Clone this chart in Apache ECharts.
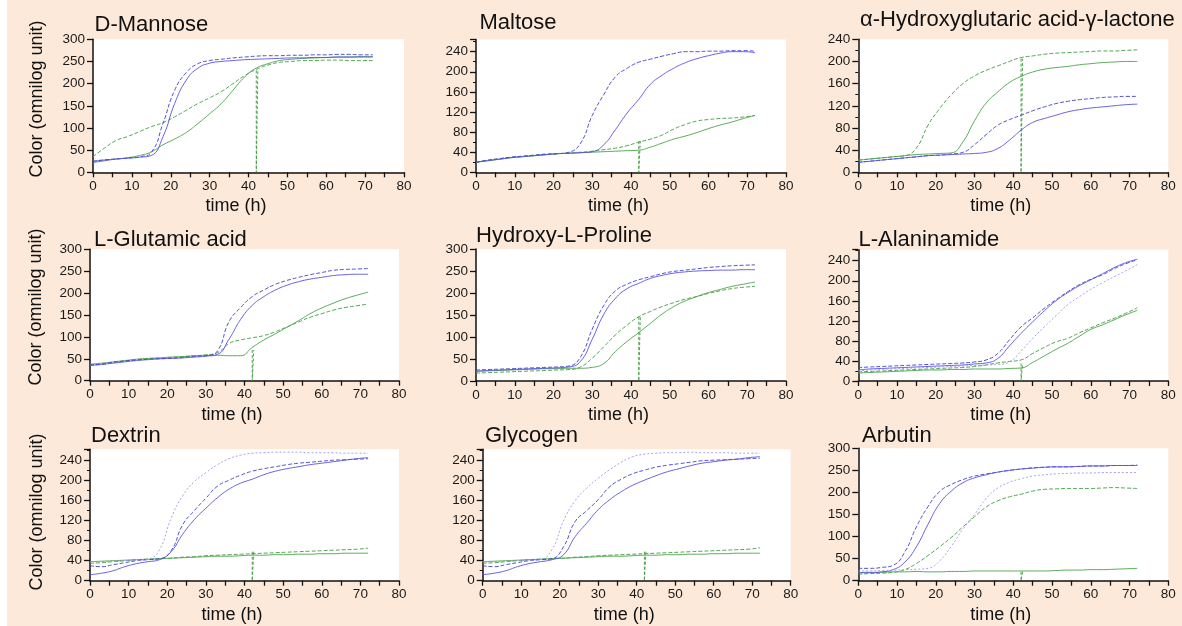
<!DOCTYPE html>
<html><head><meta charset="utf-8">
<script src="https://cdn.jsdelivr.net/npm/echarts@6/dist/echarts.min.js"></script>
<style>html,body{margin:0;padding:0;background:#fff}#c{width:1182px;height:626px}</style>
</head><body><div id="c"></div>
<script>
// time points (h)
const T = [0,3,6,9,12,15,18,21,24,27,30,33,36,39,42,45,48,51,54,57,60,63,66,69,72];

const titles = ['D-Mannose','Maltose','\u03b1-Hydroxyglutaric acid-\u03b3-lactone','L-Glutamic acid','Hydroxy-L-Proline','L-Alaninamide','Dextrin','Glycogen','Arbutin'];
const yMax  = [300, 264, 240, 300, 300, 262, 263, 263, 300];
const yStep = [50, 40, 40, 50, 50, 40, 40, 40, 50];
const xTicks = [0,10,20,30,40,50,60,70,80];
const glitchTime = 42;
const glitchTop = [230, 62, 205, 70, 146, 35, 58, 58, 20];

// D-Mannose
const mannoseB1 = [25,28,30,32,35,45,110,185,225,245,252,255,258,260,262,263,263,264,264,265,265,266,266,265,265];
const mannoseB2 = [22,26,30,32,34,38,80,155,208,235,246,250,252,254,255,256,257,258,258,259,259,260,260,260,260];
const mannoseG1 = [35,55,72,81,92,103,112,125,140,155,168,182,200,218,232,242,248,250,252,252,253,253,252,252,252];
const mannoseG2 = [25,28,30,33,38,46,62,75,90,110,132,155,185,215,235,245,252,255,257,258,259,260,260,261,261];
// Maltose
const maltoseB1 = [20,24,27,30,32,34,36,37,40,58,113,155,190,207,219,225,231,236,240,240,241,241,242,242,241];
const maltoseB2 = [20,23,26,29,31,33,35,37,38,39,41,55,85,118,145,175,193,207,218,226,232,237,240,240,238];
const maltoseG1 = [20,24,27,30,32,34,36,37,38,40,42,45,48,53,60,66,74,86,95,102,105,107,108,110,113];
const maltoseG2 = [20,23,26,29,31,33,35,37,38,39,40,41,42,43,44,50,58,66,72,79,87,94,100,107,113];
// alpha-Hydroxyglutaric acid-gamma-lactone
const hglB1 = [18,20,22,24,26,28,30,31,33,36,50,68,85,95,103,111,118,124,128,131,133,135,136,137,137];
const hglB2 = [18,20,22,24,26,28,30,31,32,33,34,36,43,58,76,90,97,103,109,113,116,118,120,122,123];
const hglG1 = [22,24,26,28,30,44,85,115,140,160,174,184,192,200,207,210,213,215,216,217,218,219,219,220,221];
const hglG2 = [22,24,26,28,30,32,33,34,35,55,93,125,145,162,173,181,186,189,191,194,196,198,199,200,200];
// L-Glutamic acid
const gluB1 = [36,38,42,45,47,49,50,51,53,55,57,68,135,167,192,207,220,229,236,242,247,252,254,255,256];
const gluB2 = [35,37,40,43,46,48,50,51,52,54,56,60,95,140,172,192,207,218,226,232,236,240,242,243,243];
const gluG1 = [35,38,42,45,48,50,52,53,55,57,59,64,85,93,98,103,112,123,134,145,153,161,167,171,175];
const gluG2 = [38,40,43,46,49,51,52,54,55,57,58,58,57,57,76,93,107,122,137,153,166,177,187,195,202];
// Hydroxy-L-Proline
const hypB1 = [25,26,27,28,29,30,31,32,34,55,118,172,205,220,230,237,244,249,252,255,258,260,262,263,264];
const hypB2 = [22,24,25,26,27,28,29,30,32,45,95,152,188,210,222,233,240,245,248,250,251,252,252,253,253];
const hypG1 = [18,19,20,21,22,23,24,25,26,32,52,78,105,127,146,158,169,178,186,192,199,205,210,213,215];
const hypG2 = [22,23,24,25,26,27,28,28,29,29,31,40,67,90,110,131,152,169,182,192,201,208,215,220,225];
// L-Alaninamide
const alaB1 = [27,28,29,30,31,32,33,34,35,36,38,42,55,82,108,126,145,162,178,192,203,212,224,234,242];
const alaB2 = [22,24,25,26,27,28,29,30,31,32,34,36,45,70,95,118,140,160,176,190,202,214,226,236,243];
const alaB3 = [20,22,23,24,25,26,27,28,29,30,31,32,33,38,60,85,108,130,152,168,183,196,208,220,232];
const alaG1 = [18,19,20,21,22,23,24,25,26,27,29,32,36,39,42,55,67,78,85,96,106,116,125,135,146];
const alaG2 = [16,17,18,19,20,21,22,22,23,23,24,24,24,25,26,37,50,63,75,89,103,112,122,132,141];
// Dextrin
const dexB1 = [30,28,32,36,40,42,44,60,112,140,165,189,201,211,219,224,228,232,235,237,239,241,242,243,244];
const dexB2 = [12,15,20,28,34,38,42,58,93,122,145,166,183,195,203,212,219,224,228,232,235,238,241,244,246];
const dexB3 = [38,38,39,40,41,43,62,125,170,198,216,232,244,251,255,256,257,257,257,256,256,256,255,255,255];
const dexG1 = [35,36,38,40,42,43,44,45,47,48,50,51,52,53,54,55,56,57,58,59,60,61,62,63,65];
const dexG2 = [38,39,40,41,42,43,44,45,46,47,48,49,49,50,51,51,52,52,53,53,54,54,55,55,55];
// Glycogen
const glyB1 = [30,28,32,36,40,42,44,68,118,140,162,188,203,214,221,227,231,234,237,240,241,242,243,244,245];
const glyB2 = [12,15,20,28,34,38,42,52,88,115,142,162,178,191,201,210,218,224,230,235,238,241,243,246,248];
const glyB3 = [38,38,39,40,41,43,62,120,160,185,205,222,237,248,253,255,256,256,257,256,256,256,255,255,255];
const glyG1 = [35,36,38,40,42,43,44,45,47,48,50,51,52,53,54,55,56,57,58,59,60,61,62,63,66];
const glyG2 = [38,39,40,41,42,43,44,45,46,47,48,49,49,50,51,51,52,52,53,53,54,54,55,55,55];
// Arbutin
const arbB1 = [28,28,30,35,65,122,168,202,218,229,237,242,246,250,253,256,257,258,258,259,260,260,261,261,262];
const arbB2 = [18,18,20,25,42,77,128,175,203,222,233,240,246,250,253,255,257,258,258,259,260,260,261,261,261];
const arbB3 = [22,22,23,24,25,26,28,45,78,117,150,186,210,223,231,237,240,242,243,244,244,245,245,245,245];
const arbG1 = [15,16,17,19,25,39,57,77,98,122,145,167,181,190,196,203,207,208,209,209,209,210,211,210,209];
const arbG2 = [18,19,19,20,20,21,20,20,21,21,22,22,22,22,22,22,22,23,24,24,25,25,26,27,28];

const blues = [[mannoseB1,mannoseB2],[maltoseB1,maltoseB2],[hglB1,hglB2],[gluB1,gluB2],[hypB1,hypB2],
  [alaB1,alaB2,alaB3],[dexB1,dexB2,dexB3],[glyB1,glyB2,glyB3],[arbB1,arbB2,arbB3]];
const greens = [[mannoseG1,mannoseG2],[maltoseG1,maltoseG2],[hglG1,hglG2],[gluG1,gluG2],[hypG1,hypG2],
  [alaG1,alaG2],[dexG1,dexG2],[glyG1,glyG2],[arbG1,arbG2]];

// layout
const grids = [
  {left:93, top:39.3, width:311, height:133},
  {left:476, top:39.6, width:310, height:132.7},
  {left:858.3, top:39.3, width:310, height:133},
  {left:90, top:249.3, width:309, height:131.4},
  {left:476, top:249, width:310, height:132},
  {left:858.3, top:249.7, width:310, height:131.3},
  {left:90, top:449.2, width:309, height:131.5},
  {left:482.7, top:449.2, width:308, height:131.5},
  {left:858.3, top:448.3, width:310, height:132.4}
];
const titlePos = [[94.5,14],[479.5,12],[860,9],[94,229],[476,225],[858.5,229],[91,425],[485,425],[862,425]];
const yTitlePos = [[37.5,99],[36,307],[37,512]];

const FF = '"Liberation Sans", Arial, sans-serif';
const blueColors = ['#3d3dd2', '#5b50e0', '#a393ee'];
const blueTypes = [[4,2], 'solid', [2,2]];
const greenColors = ['#3e9a3e', '#4aa24a'];
const greenTypes = [[4,2], 'solid'];

const option = {
  animation: false,
  backgroundColor: '#fde9d9',
  title: titles.map((t,i)=>({text:t, left:titlePos[i][0], top:titlePos[i][1], padding:0,
    textStyle:{fontSize:22, fontWeight:'normal', color:'#111', fontFamily:FF}})),
  grid: grids.map(g=>Object.assign({show:true, backgroundColor:'#ffffff', borderWidth:0, containLabel:false}, g)),
  xAxis: grids.map((g,i)=>({
    gridIndex:i, type:'value', min:0, max:80, interval:5,
    axisLine:{show:true, onZero:false, lineStyle:{color:'#111', width:1.5}},
    axisTick:{show:true, length:5, lineStyle:{color:'#111', width:1.3}},
    axisLabel:{margin:7, fontSize:13.5, color:'#1a1a1a', fontFamily:FF,
      formatter:v=> xTicks.indexOf(v)>=0 ? String(v) : ''},
    splitLine:{show:false},
    name:'time (h)', nameLocation:'middle', nameGap:25,
    nameTextStyle:{fontSize:18, color:'#111', fontFamily:FF, padding:[0,25,0,0]}
  })),
  yAxis: grids.map((g,i)=>({
    gridIndex:i, type:'value', min:0, max:yMax[i], interval:yStep[i],
    axisLine:{show:true, onZero:false, lineStyle:{color:'#111', width:1.5}},
    axisTick:{show:true, length:6, lineStyle:{color:'#111', width:1.3}},
    minorTick:{show: yStep[i]===40, splitNumber:2, length:3, lineStyle:{color:'#111', width:1}},
    axisLabel:{margin:8, fontSize:13.5, color:'#1a1a1a', fontFamily:FF,
      formatter:v=> (v % yStep[i] === 0) ? String(v) : ''},
    splitLine:{show:false}, minorSplitLine:{show:false}
  })),
  graphic: [
    {type:'rect', shape:{x:0,y:0,width:7,height:626}, style:{fill:'#ffffff'}, silent:true}
  ].concat(yTitlePos.map(p=>({type:'text', x:p[0], y:p[1], rotation:Math.PI/2, silent:true,
    style:{text:'Color (omnilog unit)', font:'18px "Liberation Sans", Arial, sans-serif', fill:'#111',
      align:'center', verticalAlign:'middle'}}))),
  series: []
};

for (let i=0;i<9;i++){
  greens[i].forEach((arr,k)=>{
    option.series.push({type:'line', xAxisIndex:i, yAxisIndex:i, silent:true,
      data:T.map((t,j)=>[t,arr[j]]), showSymbol:false, smooth:0.5,
      lineStyle:{color:greenColors[k], width:1, type:greenTypes[k], opacity:0.9}});
  });
  blues[i].forEach((arr,k)=>{
    option.series.push({type:'line', xAxisIndex:i, yAxisIndex:i, silent:true,
      data:T.map((t,j)=>[t,arr[j]]), showSymbol:false, smooth:0.5,
      lineStyle:{color:blueColors[k], width:1, type:blueTypes[k], opacity:0.9}});
  });
  option.series.push({type:'line', xAxisIndex:i, yAxisIndex:i, silent:true,
    data:[[glitchTime,glitchTop[i]],[glitchTime,0],[glitchTime+0.4,0],[glitchTime+0.4,glitchTop[i]]],
    showSymbol:false, lineStyle:{color:'#3e9a3e', width:1, type:[3,2], opacity:0.9}});
}

const chart = echarts.init(document.getElementById('c'), null, {renderer:'canvas'});
chart.setOption(option);
</script></body></html>
